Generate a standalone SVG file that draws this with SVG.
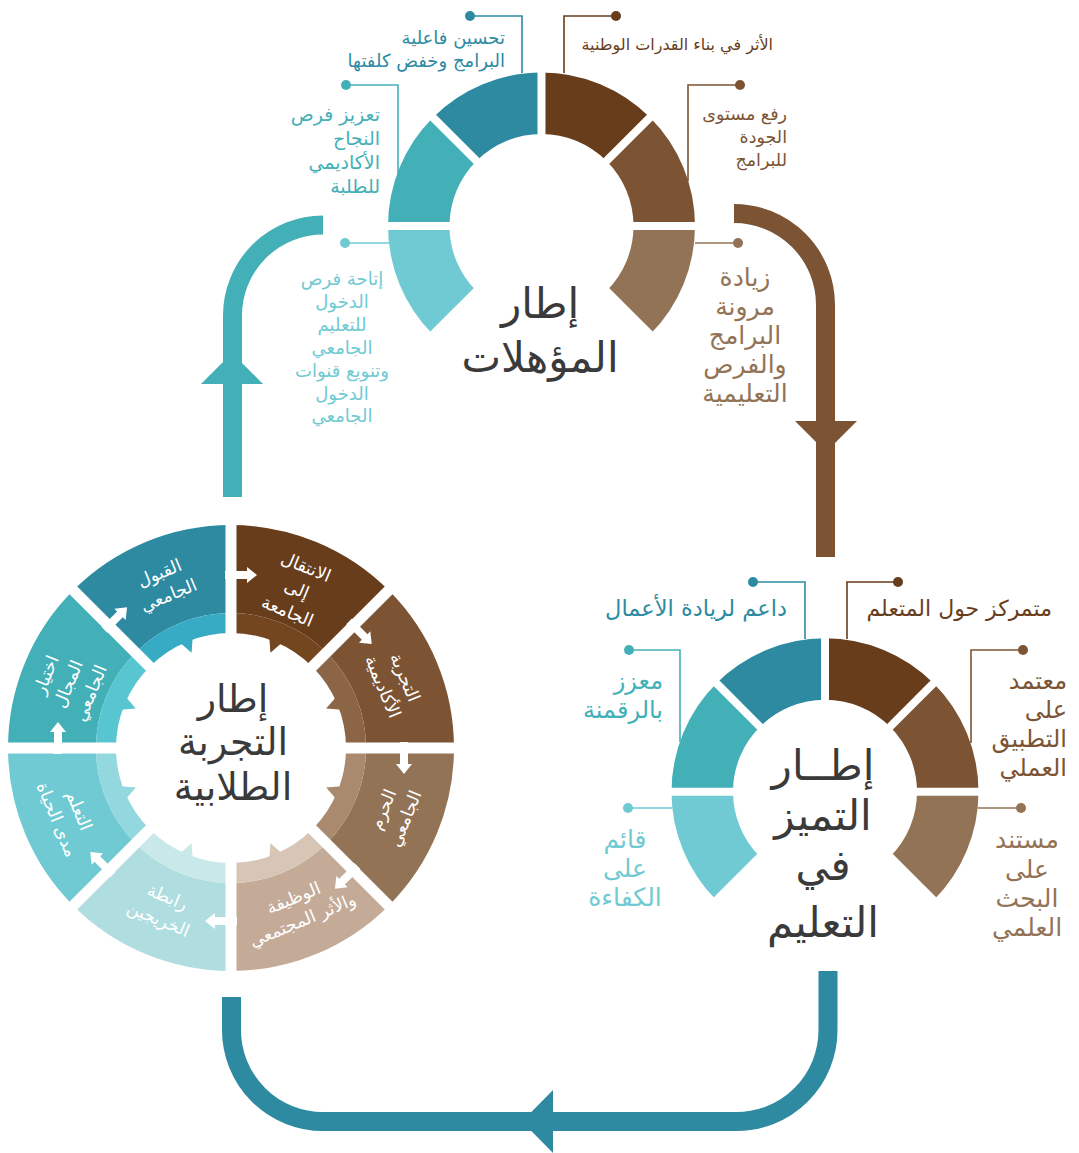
<svg xmlns="http://www.w3.org/2000/svg" width="1079" height="1153" viewBox="0 0 1079 1153">
<style>
text{font-family:'DejaVu Sans',sans-serif;}
.title{font-size:42px;fill:#3a3a3a;text-anchor:middle;}
.w{fill:#fff;font-size:17.5px;text-anchor:middle;}
.lead{fill:none;stroke-width:1.6;}
.gap1{stroke:#fff;stroke-width:8;}
.gap3{stroke:#fff;stroke-width:11;}
.e{text-anchor:end;}
.m{text-anchor:middle;}
</style>
<defs>
<path id="s3o" d="M231,525 A223,223 0 0 1 388.68,590.32 L326.46,652.54 A135,135 0 0 0 231,613 Z"/>
<path id="s3b" d="M231,613 A135,135 0 0 1 326.46,652.54 L312.32,666.68 A115,115 0 0 0 231,633 Z"/>
<path id="s3t" d="M224,631 L238,631 L231,645 Z"/>
<path id="arr" d="M225,571 H247 V567 L257,575 L247,583 V579 H225 Z" fill="#fff"/>
<line id="g3" x1="231" y1="640" x2="231" y2="518" class="gap3"/>
</defs>

<g id="connectors">
<path d="M232.5,497 V315.5 A90.5,90.5 0 0 1 323,225" fill="none" stroke="#43b0b8" stroke-width="19"/>
<polygon points="201,384 263,384 232,353" fill="#43b0b8"/>
<path d="M734,213.5 A91.5,91.5 0 0 1 825.5,305 V557" fill="none" stroke="#7c5434" stroke-width="19"/>
<polygon points="795,421 857,421 826,452" fill="#7c5434"/>
<path d="M828,971 V1030 A91.5,91.5 0 0 1 736.5,1121.5 H323 A91.5,91.5 0 0 1 231.5,1030 V997" fill="none" stroke="#2d8aa1" stroke-width="19"/>
<polygon points="553,1090 553,1153 522,1121.5" fill="#2d8aa1"/>
</g>

<g id="qualifications">
<path d="M432.96,334.54 A153.5,153.5 0 0 1 388,226 L449.5,226 A92,92 0 0 0 476.45,291.05 Z" fill="#70cad3"/>
<path d="M388,226 A153.5,153.5 0 0 1 432.96,117.46 L476.45,160.95 A92,92 0 0 0 449.5,226 Z" fill="#43b0b8"/>
<path d="M432.96,117.46 A153.5,153.5 0 0 1 541.5,72.5 L541.5,134 A92,92 0 0 0 476.45,160.95 Z" fill="#2d8aa1"/>
<path d="M541.5,72.5 A153.5,153.5 0 0 1 650.04,117.46 L606.55,160.95 A92,92 0 0 0 541.5,134 Z" fill="#673d1c"/>
<path d="M650.04,117.46 A153.5,153.5 0 0 1 695,226 L633.5,226 A92,92 0 0 0 606.55,160.95 Z" fill="#7c5434"/>
<path d="M695,226 A153.5,153.5 0 0 1 650.04,334.54 L606.55,291.05 A92,92 0 0 0 633.5,226 Z" fill="#937356"/>
<g class="gap1">
<line x1="480.7" y1="286.8" x2="428.4" y2="339.1"/>
<line x1="455.5" y1="226" x2="381.5" y2="226"/>
<line x1="480.7" y1="165.2" x2="428.4" y2="112.9"/>
<line x1="541.5" y1="140" x2="541.5" y2="66"/>
<line x1="602.3" y1="165.2" x2="654.6" y2="112.9"/>
<line x1="627.5" y1="226" x2="701.5" y2="226"/>
<line x1="602.3" y1="286.8" x2="654.6" y2="339.1"/>
</g>
<text class="title"><tspan x="540" y="318">إطار</tspan><tspan x="540" y="372">المؤهلات</tspan></text>
</g>

<g id="q-efficiency">
<path class="lead" stroke="#2d8aa1" d="M470,16 H522 V73"/><circle cx="470" cy="16" r="5" fill="#2d8aa1"/>
<text class="e" fill="#2d8aa1" font-size="18"><tspan x="505" y="44">تحسين فاعلية</tspan><tspan x="505" y="67">البرامج وخفض كلفتها</tspan></text>
</g>
<g id="q-national">
<path class="lead" stroke="#673d1c" d="M616,16 H564 V73"/><circle cx="616" cy="16" r="5" fill="#673d1c"/>
<text class="e" fill="#673d1c" font-size="16" x="773" y="50">الأثر في بناء القدرات الوطنية</text>
</g>
<g id="q-success">
<path class="lead" stroke="#43b0b8" d="M346,85 H398 V176"/><circle cx="346" cy="85" r="5" fill="#43b0b8"/>
<text class="e" fill="#43b0b8" font-size="19"><tspan x="380" y="121">تعزيز فرص</tspan><tspan x="380" y="145">النجاح</tspan><tspan x="380" y="169">الأكاديمي</tspan><tspan x="380" y="193">للطلبة</tspan></text>
</g>
<g id="q-quality">
<path class="lead" stroke="#7c5434" d="M740,85 H688 V181"/><circle cx="740" cy="85" r="5" fill="#7c5434"/>
<text class="e" fill="#7c5434" font-size="17.5"><tspan x="787" y="120">رفع مستوى</tspan><tspan x="787" y="143">الجودة</tspan><tspan x="787" y="166">للبرامج</tspan></text>
</g>
<g id="q-access">
<path class="lead" stroke="#70cad3" d="M345,243 H390"/><circle cx="345" cy="243" r="5" fill="#70cad3"/>
<text class="m" fill="#70cad3" font-size="18"><tspan x="342" y="285">إتاحة فرص</tspan><tspan x="342" y="308">الدخول</tspan><tspan x="342" y="331">للتعليم</tspan><tspan x="342" y="354">الجامعي</tspan><tspan x="342" y="377">وتنويع قنوات</tspan><tspan x="342" y="400">الدخول</tspan><tspan x="342" y="422">الجامعي</tspan></text>
</g>
<g id="q-flex">
<path class="lead" stroke="#937356" d="M738,243 H695"/><circle cx="738" cy="243" r="5" fill="#937356"/>
<text class="m" fill="#937356" font-size="25"><tspan x="745" y="286">زيادة</tspan><tspan x="745" y="315">مرونة</tspan><tspan x="745" y="344">البرامج</tspan><tspan x="745" y="373">والفرص</tspan><tspan x="745" y="402">التعليمية</tspan></text>
</g>

<g id="excellence">
<path d="M716.46,900.34 A153.5,153.5 0 0 1 671.5,791.8 L733,791.8 A92,92 0 0 0 759.95,856.85 Z" fill="#70cad3"/>
<path d="M671.5,791.8 A153.5,153.5 0 0 1 716.46,683.26 L759.95,726.75 A92,92 0 0 0 733,791.8 Z" fill="#43b0b8"/>
<path d="M716.46,683.26 A153.5,153.5 0 0 1 825,638.3 L825,699.8 A92,92 0 0 0 759.95,726.75 Z" fill="#2d8aa1"/>
<path d="M825,638.3 A153.5,153.5 0 0 1 933.54,683.26 L890.05,726.75 A92,92 0 0 0 825,699.8 Z" fill="#673d1c"/>
<path d="M933.54,683.26 A153.5,153.5 0 0 1 978.5,791.8 L917,791.8 A92,92 0 0 0 890.05,726.75 Z" fill="#7c5434"/>
<path d="M978.5,791.8 A153.5,153.5 0 0 1 933.54,900.34 L890.05,856.85 A92,92 0 0 0 917,791.8 Z" fill="#937356"/>
<g class="gap1">
<line x1="764.2" y1="852.6" x2="711.9" y2="904.9"/>
<line x1="739" y1="791.8" x2="665" y2="791.8"/>
<line x1="764.2" y1="731" x2="711.9" y2="678.7"/>
<line x1="825" y1="706" x2="825" y2="632"/>
<line x1="885.8" y1="731" x2="938.1" y2="678.7"/>
<line x1="911" y1="791.8" x2="985" y2="791.8"/>
<line x1="885.8" y1="852.6" x2="938.1" y2="904.9"/>
</g>
<text class="title"><tspan x="823" y="780">إطــار</tspan><tspan x="823" y="830">التميز</tspan><tspan x="823" y="880">في</tspan><tspan x="823" y="937">التعليم</tspan></text>
</g>

<g id="e-business">
<path class="lead" stroke="#2d8aa1" d="M753,582 H805 V639"/><circle cx="753" cy="582" r="5" fill="#2d8aa1"/>
<text class="e" fill="#2d8aa1" font-size="22.5" x="787" y="616">داعم لريادة الأعمال</text>
</g>
<g id="e-learner">
<path class="lead" stroke="#673d1c" d="M898,582 H847 V639"/><circle cx="898" cy="582" r="5" fill="#673d1c"/>
<text class="e" fill="#673d1c" font-size="22" x="1052" y="616">متمركز حول المتعلم</text>
</g>
<g id="e-digital">
<path class="lead" stroke="#43b0b8" d="M629,650 H680 V742"/><circle cx="629" cy="650" r="5" fill="#43b0b8"/>
<text class="e" fill="#43b0b8" font-size="24"><tspan x="663" y="689">معزز</tspan><tspan x="663" y="718">بالرقمنة</tspan></text>
</g>
<g id="e-practice">
<path class="lead" stroke="#7c5434" d="M1023,650 H971 V743"/><circle cx="1023" cy="650" r="5" fill="#7c5434"/>
<text class="e" fill="#7c5434" font-size="24"><tspan x="1067" y="689">معتمد</tspan><tspan x="1067" y="718">على</tspan><tspan x="1067" y="747">التطبيق</tspan><tspan x="1067" y="776">العملي</tspan></text>
</g>
<g id="e-competency">
<path class="lead" stroke="#70cad3" d="M628,808 H672"/><circle cx="628" cy="808" r="5" fill="#70cad3"/>
<text class="m" fill="#70cad3" font-size="25"><tspan x="625" y="848">قائم</tspan><tspan x="625" y="877">على</tspan><tspan x="625" y="906">الكفاءة</tspan></text>
</g>
<g id="e-research">
<path class="lead" stroke="#937356" d="M1021,808 H978"/><circle cx="1021" cy="808" r="5" fill="#937356"/>
<text class="m" fill="#937356" font-size="25"><tspan x="1027" y="848">مستند</tspan><tspan x="1027" y="878">على</tspan><tspan x="1027" y="907">البحث</tspan><tspan x="1027" y="936">العلمي</tspan></text>
</g>

<g id="student-experience">
<g id="s-transition">
<use href="#s3o" fill="#673d1c"/><use href="#s3b" fill="#744620"/><use href="#s3t" fill="#744620" transform="rotate(22.5 231 748)"/>
<text class="w" transform="translate(296.8 589.1) rotate(22.5)"><tspan x="0" y="-18">الانتقال</tspan><tspan x="0" y="6">إلى</tspan><tspan x="0" y="30">الجامعة</tspan></text>
</g>
<g id="s-academic">
<use href="#s3o" fill="#7c5434" transform="rotate(45 231 748)"/><use href="#s3b" fill="#8b6545" transform="rotate(45 231 748)"/><use href="#s3t" fill="#8b6545" transform="rotate(67.5 231 748)"/>
<text class="w" transform="translate(394 682) rotate(67.5)"><tspan x="0" y="-6">التجربة</tspan><tspan x="0" y="18">الأكاديمية</tspan></text>
</g>
<g id="s-campus">
<use href="#s3o" fill="#937356" transform="rotate(90 231 748)"/><use href="#s3b" fill="#a98a6e" transform="rotate(90 231 748)"/><use href="#s3t" fill="#a98a6e" transform="rotate(112.5 231 748)"/>
<text class="w" transform="translate(394 814) rotate(-67.5)"><tspan x="0" y="-6">الحرم</tspan><tspan x="0" y="18">الجامعي</tspan></text>
</g>
<g id="s-career">
<use href="#s3o" fill="#c4ab98" transform="rotate(135 231 748)"/><use href="#s3b" fill="#d7c5b6" transform="rotate(135 231 748)"/><use href="#s3t" fill="#d7c5b6" transform="rotate(157.5 231 748)"/>
<text class="w" transform="translate(298 909) rotate(-22.5)"><tspan x="0" y="-6">الوظيفة</tspan><tspan x="0" y="18">والأثر المجتمعي</tspan></text>
</g>
<g id="s-alumni">
<use href="#s3o" fill="#afdde0" transform="rotate(180 231 748)"/><use href="#s3b" fill="#c8e8ea" transform="rotate(180 231 748)"/><use href="#s3t" fill="#c8e8ea" transform="rotate(202.5 231 748)"/>
<text class="w" transform="translate(163 908) rotate(22.5)"><tspan x="0" y="-6">رابطة</tspan><tspan x="0" y="18">الخريجين</tspan></text>
</g>
<g id="s-lifelong">
<use href="#s3o" fill="#70cad3" transform="rotate(225 231 748)"/><use href="#s3b" fill="#93d7df" transform="rotate(225 231 748)"/><use href="#s3t" fill="#93d7df" transform="rotate(247.5 231 748)"/>
<text class="w" transform="translate(68 815) rotate(67.5)"><tspan x="0" y="-6">التعلم</tspan><tspan x="0" y="18">مدى الحياة</tspan></text>
</g>
<g id="s-major">
<use href="#s3o" fill="#43b0b8" transform="rotate(270 231 748)"/><use href="#s3b" fill="#57c6d0" transform="rotate(270 231 748)"/><use href="#s3t" fill="#57c6d0" transform="rotate(292.5 231 748)"/>
<text class="w" transform="translate(68 684) rotate(-67.5)"><tspan x="0" y="-18">اختيار</tspan><tspan x="0" y="6">المجال</tspan><tspan x="0" y="30">الجامعي</tspan></text>
</g>
<g id="s-admission">
<use href="#s3o" fill="#2d8aa1" transform="rotate(315 231 748)"/><use href="#s3b" fill="#38abc4" transform="rotate(315 231 748)"/><use href="#s3t" fill="#38abc4" transform="rotate(337.5 231 748)"/>
<text class="w" transform="translate(164 584) rotate(-22.5)"><tspan x="0" y="-6">القبول</tspan><tspan x="0" y="18">الجامعي</tspan></text>
</g>
<g id="s-gaps">
<use href="#g3"/><use href="#g3" transform="rotate(45 231 748)"/><use href="#g3" transform="rotate(90 231 748)"/><use href="#g3" transform="rotate(135 231 748)"/><use href="#g3" transform="rotate(180 231 748)"/><use href="#g3" transform="rotate(225 231 748)"/><use href="#g3" transform="rotate(270 231 748)"/><use href="#g3" transform="rotate(315 231 748)"/>
</g>
<g id="s-arrows">
<use href="#arr"/><use href="#arr" transform="rotate(45 231 748)"/><use href="#arr" transform="rotate(90 231 748)"/><use href="#arr" transform="rotate(135 231 748)"/><use href="#arr" transform="rotate(180 231 748)"/><use href="#arr" transform="rotate(225 231 748)"/><use href="#arr" transform="rotate(270 231 748)"/><use href="#arr" transform="rotate(315 231 748)"/>
</g>
<text class="title" style="font-size:38px"><tspan x="233" y="712">إطار</tspan><tspan x="233" y="755">التجربة</tspan><tspan x="233" y="800">الطلابية</tspan></text>
</g>
</svg>
